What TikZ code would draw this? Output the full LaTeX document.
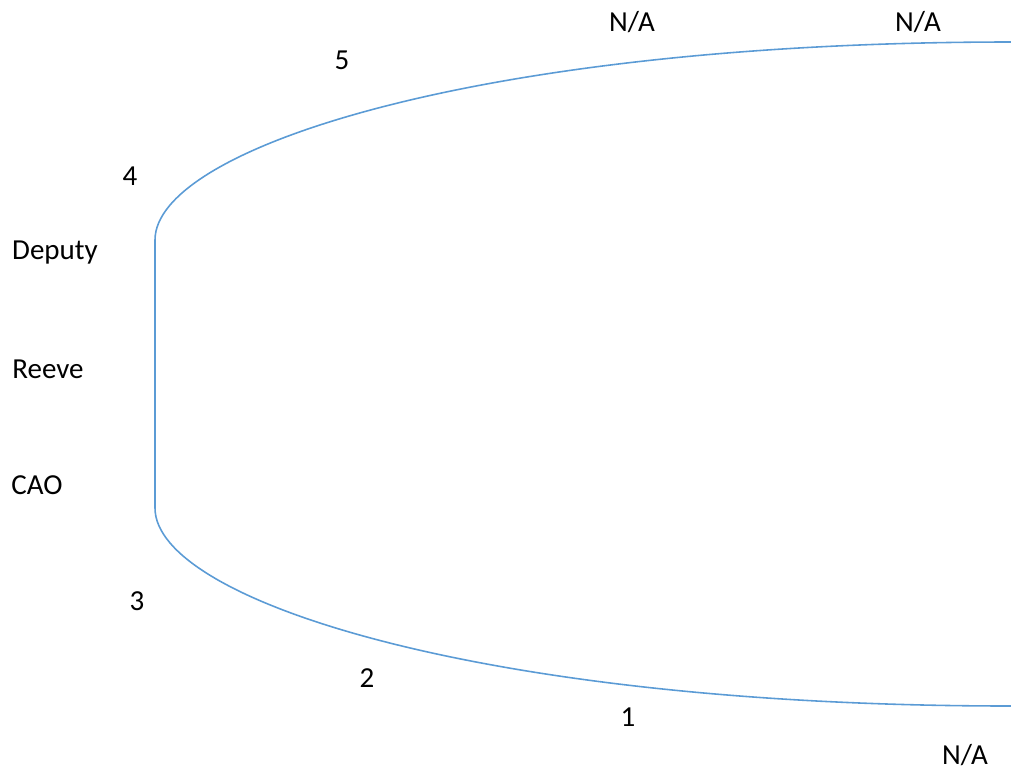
\documentclass[tikz,border=0pt]{standalone}
\usepackage{fontspec}
\setmainfont{Carlito}
\usepackage{xcolor}
\definecolor{linkblue}{RGB}{91,155,213}
\usetikzlibrary{positioning}

\begin{document}
\begin{tikzpicture}[
  x=0.02cm, y=-0.02cm,
  font=\fontsize{16.5}{20}\selectfont,
  every node/.style={inner sep=1pt},
  lbl/.style={anchor=center},
  bracket/.style={linkblue, line width=0.9pt}
]
  \useasboundingbox (0,0) rectangle (1011,775);
  % the bracket
  \coordinate (topend) at (1011,42);
  \coordinate (topcorner) at (155,240);
  \coordinate (botcorner) at (155,508);
  \coordinate (botend) at (1011,706);
  \draw[bracket] (topend) .. controls (480,42) and (155,148) .. (topcorner)
    -- (botcorner) .. controls (155,600) and (480,706) .. (botend);
  % labels
  \node[lbl] (na1) at (632,22) {N/A};
  \node[lbl] (na2) at (918,22) {N/A};
  \node[lbl] (na3) at (965,755) {N/A};
  \node[lbl] (five) at (342,60) {5};
  \node[lbl] (four) at (130,176) {4};
  \node[lbl] (deputy) at (55,253) {Deputy};
  \node[lbl] (reeve) at (48,369) {Reeve};
  \node[lbl] (cao) at (37,485) {CAO};
  \node[lbl] (three) at (137,601) {3};
  \node[lbl] (two) at (367,678) {2};
  \node[lbl] (one) at (628,717) {1};
\end{tikzpicture}
\end{document}
